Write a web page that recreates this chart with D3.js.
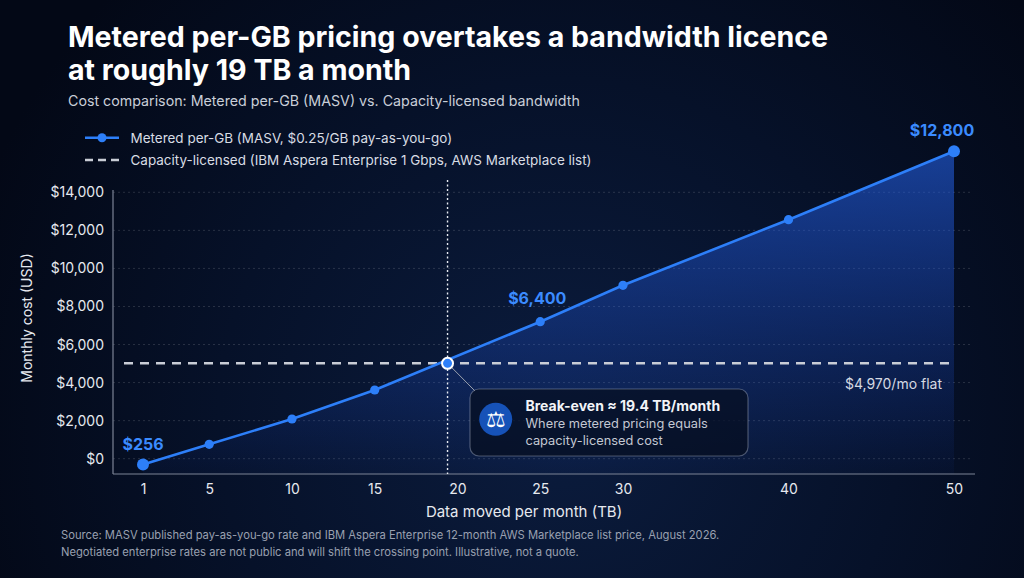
<!DOCTYPE html>
<html><head><meta charset="utf-8">
<script src="https://cdn.jsdelivr.net/npm/d3@7"></script>
<style>
html,body{margin:0;padding:0;background:#040a18;overflow:hidden;}
svg{display:block;}
text{font-family:Inter,"Noto Sans",sans-serif;}
</style></head><body>
<svg id="c" width="1024" height="578"></svg>
<script>
// ---- data ----
const volumesTB   = [1, 5, 10, 15, 25, 30, 40, 50];
const meteredCost = [-305, 757, 2086, 3610, 7199, 9112, 12560, 16154];
const licenceCost = 5013;
const breakEvenTB = 19.4;
const xTickValues = [1, 5, 10, 15, 20, 25, 30, 40, 50];
const yTickValues = [0, 2000, 4000, 6000, 8000, 10000, 12000, 14000];
const labelTB     = [1, 25, 50];
const labelText   = ["$256", "$6,400", "$12,800"];

const titleLines = ["Metered per-GB pricing overtakes a bandwidth licence", "at roughly 19 TB a month"];
const subtitle = "Cost comparison: Metered per-GB (MASV) vs. Capacity-licensed bandwidth";
const legendLabels = ["Metered per-GB (MASV, $0.25/GB pay-as-you-go)", "Capacity-licensed (IBM Aspera Enterprise 1 Gbps, AWS Marketplace list)"];
const footerLines = ["Source: MASV published pay-as-you-go rate and IBM Aspera Enterprise 12-month AWS Marketplace list price, August 2026.",
  "Negotiated enterprise rates are not public and will shift the crossing point. Illustrative, not a quote."];

const svg = d3.select("#c");
const W = 1024, H = 578;
const blue = "#2d7ff9";

// background
const defs = svg.append("defs");
const bg = defs.append("radialGradient").attr("id","bg").attr("gradientUnits","userSpaceOnUse")
  .attr("cx",560).attr("cy",420).attr("r",620);
bg.append("stop").attr("offset",0).attr("stop-color","#0b1c3e");
bg.append("stop").attr("offset",0.55).attr("stop-color","#061129");
bg.append("stop").attr("offset",1).attr("stop-color","#030816");
svg.append("rect").attr("width",W).attr("height",H).attr("fill","url(#bg)");

// scales
const plotLeft = 113, plotRight = 975, plotTop = 190, plotBottom = 474;
const x = d3.scaleLinear().domain([1, 50]).range([143, 954]);
const y = d3.scaleLinear().domain([0, 14000]).range([458.7, 192.3]);

const areaGrad = defs.append("linearGradient").attr("id","ag").attr("gradientUnits","userSpaceOnUse")
  .attr("x1",0).attr("y1",y(16154)).attr("x2",0).attr("y2",plotBottom);
areaGrad.append("stop").attr("offset",0).attr("stop-color","#2563eb").attr("stop-opacity",0.58);
areaGrad.append("stop").attr("offset",1).attr("stop-color","#1d4ed8").attr("stop-opacity",0.04);

// grid
svg.append("g").selectAll("line").data(yTickValues).join("line")
  .attr("x1",plotLeft).attr("x2",971).attr("y1",d=>y(d)).attr("y2",d=>y(d))
  .attr("stroke","rgba(255,255,255,0.14)").attr("stroke-width",1).attr("stroke-dasharray","2,3");

// area
const pts = volumesTB.map((v,i)=>({tb:v, c:meteredCost[i]}));
svg.append("path").datum(pts)
  .attr("d", d3.area().x(d=>x(d.tb)).y0(plotBottom).y1(d=>y(d.c)))
  .attr("fill","url(#ag)");

// axes lines
svg.append("line").attr("x1",plotLeft).attr("x2",plotLeft).attr("y1",plotTop).attr("y2",plotBottom)
  .attr("stroke","#7c8496").attr("stroke-width",1.2);
svg.append("line").attr("x1",plotLeft).attr("x2",plotRight).attr("y1",plotBottom).attr("y2",plotBottom)
  .attr("stroke","#7c8496").attr("stroke-width",1.2);

// y ticks
const yAxis = svg.append("g").attr("transform",`translate(${plotLeft},0)`)
  .call(d3.axisLeft(y).tickValues(yTickValues).tickSize(0).tickPadding(9).tickFormat(d=>"$"+d3.format(",")(d)));
yAxis.select(".domain").remove();
yAxis.selectAll("text").attr("fill","#e6e9ef").attr("font-size",14).attr("font-family","Inter,sans-serif");

// x ticks
const xAxis = svg.append("g").attr("transform",`translate(0,${plotBottom})`)
  .call(d3.axisBottom(x).tickValues(xTickValues).tickSize(0).tickPadding(10).tickFormat(d3.format("d")));
xAxis.select(".domain").remove();
xAxis.selectAll("text").attr("fill","#e6e9ef").attr("font-size",14).attr("font-family","Inter,sans-serif");

// axis titles
svg.append("text").attr("x",524).attr("y",517).attr("text-anchor","middle")
  .attr("fill","#e6e9ef").attr("font-size",15).text("Data moved per month (TB)");
svg.append("text").attr("transform","translate(32,318) rotate(-90)").attr("text-anchor","middle")
  .attr("fill","#e6e9ef").attr("font-size",14).text("Monthly cost (USD)");

// break-even vertical dotted line
svg.append("line").attr("x1",x(breakEvenTB)).attr("x2",x(breakEvenTB)).attr("y1",180).attr("y2",plotBottom)
  .attr("stroke","#e8ebf2").attr("stroke-width",1.4).attr("stroke-dasharray","2,2.5");

// flat licence line
svg.append("line").attr("x1",124).attr("x2",954).attr("y1",y(licenceCost)).attr("y2",y(licenceCost))
  .attr("stroke","#c9cdd6").attr("stroke-width",2.4).attr("stroke-dasharray","9,7");
svg.append("text").attr("x",942).attr("y",389).attr("text-anchor","end")
  .attr("fill","#d5d9e2").attr("font-size",14).text("$4,970/mo flat");

// metered line
svg.append("path").datum(pts)
  .attr("d", d3.line().x(d=>x(d.tb)).y(d=>y(d.c)))
  .attr("fill","none").attr("stroke",blue).attr("stroke-width",2.6);
svg.append("g").selectAll("circle").data(pts).join("circle")
  .attr("cx",d=>x(d.tb)).attr("cy",d=>y(d.c))
  .attr("r",(d,i)=> (i===0||i===pts.length-1)?6:4.6).attr("fill",blue);

// point labels
const labelDx = [0, -3, -12];
svg.append("g").selectAll("text").data(labelTB).join("text")
  .attr("x",(d,i)=>x(d)+labelDx[i]).attr("y",(d,i)=>y(meteredCost[volumesTB.indexOf(d)]) - (i===1?18:15))
  .attr("text-anchor","middle").attr("fill","#3b8bff").attr("font-size",16).attr("font-weight",700)
  .text((d,i)=>labelText[i]);

// connector + break-even point
const bx = x(breakEvenTB), by = y(licenceCost);
svg.append("line").attr("x1",bx).attr("y1",by).attr("x2",475).attr("y2",391)
  .attr("stroke","#9aa1ae").attr("stroke-width",1);
svg.append("circle").attr("cx",bx).attr("cy",by).attr("r",5.5)
  .attr("fill",blue).attr("stroke","#ffffff").attr("stroke-width",2);

// annotation box
const box = svg.append("g");
box.append("rect").attr("x",470).attr("y",389).attr("width",278).attr("height",67).attr("rx",9)
  .attr("fill","rgba(6,14,32,0.72)").attr("stroke","rgba(200,206,220,0.35)").attr("stroke-width",1.2);
box.append("circle").attr("cx",495.7).attr("cy",419.3).attr("r",16.5).attr("fill","#1652b8");
box.append("text").attr("x",495.7).attr("y",427).attr("text-anchor","middle")
  .attr("fill","#ffffff").attr("font-size",22).attr("font-family","DejaVu Sans").text("\u2696");
box.append("text").attr("x",525.5).attr("y",411).attr("fill","#f2f4f8").attr("font-size",14)
  .attr("font-weight",700).text("Break-even \u2248 19.4 TB/month");
box.append("text").attr("x",525.5).attr("y",428).attr("fill","#c3c8d3").attr("font-size",12.8)
  .text("Where metered pricing equals");
box.append("text").attr("x",525.5).attr("y",444.5).attr("fill","#c3c8d3").attr("font-size",12.8)
  .text("capacity-licensed cost");

// title / subtitle
function fit(sel, target){
  const w = sel.node().getComputedTextLength();
  const fs = parseFloat(sel.attr("font-size"));
  sel.attr("font-size", (fs*target/w).toFixed(2));
}
const t1 = svg.append("text").attr("x",68).attr("y",47).attr("fill","#ffffff").attr("font-size",27)
  .attr("font-weight",700).text(titleLines[0]);
fit(t1, 760);
const t2 = svg.append("text").attr("x",68).attr("y",80).attr("fill","#ffffff").attr("font-size",t1.attr("font-size"))
  .attr("font-weight",700).text(titleLines[1]);
const st = svg.append("text").attr("x",68).attr("y",106).attr("fill","#c9ced8").attr("font-size",15).text(subtitle);
fit(st, 512);

// legend
const lg = svg.append("g");
lg.append("line").attr("x1",85).attr("x2",119).attr("y1",137.7).attr("y2",137.7).attr("stroke",blue).attr("stroke-width",2.6);
lg.append("circle").attr("cx",102).attr("cy",137.7).attr("r",4.5).attr("fill",blue);
lg.append("line").attr("x1",85).attr("x2",119).attr("y1",160).attr("y2",160).attr("stroke","#c9cdd6")
  .attr("stroke-width",2.4).attr("stroke-dasharray","8,5");
const l1 = lg.append("text").attr("x",130.5).attr("y",142.8).attr("fill","#d8dce4").attr("font-size",14).text(legendLabels[0]);
const l2 = lg.append("text").attr("x",130.5).attr("y",165.1).attr("fill","#d8dce4").attr("font-size",14).text(legendLabels[1]);
fit(l2, 461.5);
l1.attr("font-size", l2.attr("font-size"));

// footer
const f1 = svg.append("text").attr("x",61).attr("y",538.5).attr("fill","#99a0b0").attr("font-size",12).text(footerLines[0]);
fit(f1, 659);
svg.append("text").attr("x",61).attr("y",555.5).attr("fill","#99a0b0").attr("font-size",f1.attr("font-size")).text(footerLines[1]);
</script>
</body></html>
